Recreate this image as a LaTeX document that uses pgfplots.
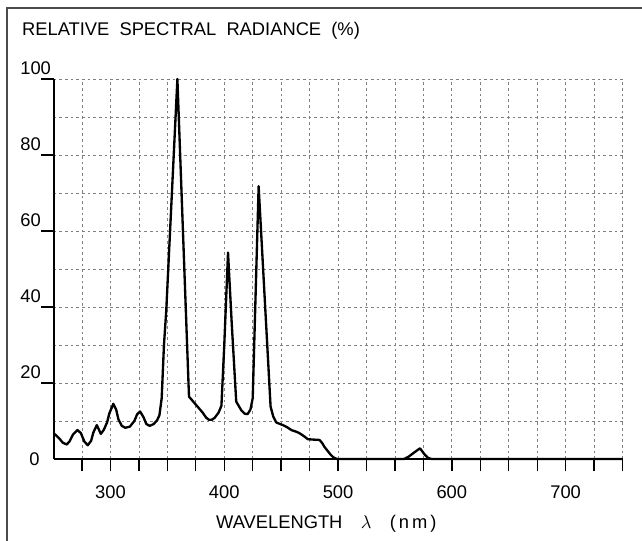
\documentclass[border=0pt]{standalone}
\usepackage{fontspec}
\setmainfont{Liberation Sans}
\usepackage{pgfplots}
\pgfplotsset{compat=1.18}

% 1 px of the reference = 0.6pt
\begin{document}
\begin{tikzpicture}
\begin{axis}[
  name=ax,
  scale only axis,
  width=341.4pt, height=228pt,
  xmin=250, xmax=750, ymin=0, ymax=100,
  axis lines*=left,
  axis line style={black, line width=1.2pt},
  font=\fontsize{11}{13}\selectfont,
  /pgf/number format/assume math mode=true,
  xtick={275,300,...,750},
  xticklabels={{},300,{},{},{},400,{},{},{},500,{},{},{},600,{},{},{},700,{},{}},
  ytick={20,40,...,100},
  minor ytick={10,30,...,90},
  extra y ticks={0},
  extra y tick style={grid=none, major tick length=0pt, yticklabel style={yshift=-6.6pt, xshift=-2pt}},
  tick align=outside,
  major tick length=7.5pt,
  minor tick length=0pt,
  tick style={black, line width=0.8pt},
  xticklabel style={yshift=-5pt},
  yticklabel style={anchor=west, xshift=-16pt, yshift=6.6pt},
  grid=both,
  major grid style={black!50, line width=0.5pt, dash pattern=on 1.6pt off 1.8pt},
  minor grid style={black!50, line width=0.5pt, dash pattern=on 1.6pt off 1.8pt},
  title={RELATIVE\ \ SPECTRAL\ \ RADIANCE\ \ (\%)},
  title style={at={(0,1)}, anchor=base west, xshift=-19.1pt, yshift=19.8pt, inner sep=0pt},
  xlabel={WAVELENGTH\quad $\lambda$\quad (\,n\,m\,)},
  xlabel style={xshift=-7pt, yshift=-3pt},
  clip=false,
]
\addplot[black, line width=1.4pt, line join=round, mark=none] coordinates {
(250,6.8) (255,5.4) (258,4.3) (261.5,3.8) (264,4.6) (267,6.4) (271,7.6) (274,6.8)
(277,4.6) (280,3.6) (283,4.8) (285,7.0) (288,8.9) (290,7.6) (291.5,6.6) (294,7.6)
(297,9.6) (299,12.0) (302.5,14.5) (305,13.0) (307,10.4) (310,8.7) (313,8.2) (317,8.5)
(321,10.0) (323.5,11.8) (326,12.5) (329,11.0) (331.5,9.2) (334.5,8.7) (338,9.2)
(341,10.2) (343,11.5) (345,16) (347,30) (349,39) (358.8,100) (369,16.4) (375,14.3)
(381,12.2) (384,10.9) (386.5,10.3) (389,10.3) (391.5,10.8) (395,12.2) (397.5,14.0)
(400,30) (403.3,54.3) (406.5,36) (410.5,15.1) (415,12.8) (418,11.9) (420.5,11.8)
(423,13) (425,16) (430.2,71.8) (440.7,13.8) (443,11.2) (445.7,9.6) (451.5,8.9)
(455,8.4) (459,7.6) (463,7.2) (466,6.8) (470,6.0) (473.4,5.2) (478,5.1) (483.7,5.0)
(486,4.2) (488,3.2) (493,1.3) (496,0.4) (499,0) (558,0) (562,0.6) (566,1.5)
(572,2.8) (576,1.2) (579,0.3) (582,0) (750,0)
};
\end{axis}
\pgfresetboundingbox
\path[use as bounding box] ([xshift=-32.16pt, yshift=-49.2pt]ax.south west)
  rectangle ([xshift=11.7pt, yshift=47.4pt]ax.north east);
\draw[black!70, line width=1.2pt]
  ([xshift=-27.96pt, yshift=-60pt]ax.south west) -- ([xshift=-27.96pt, yshift=42.6pt]ax.north west)
  -- ([xshift=20pt, yshift=42.6pt]ax.north east);
\end{tikzpicture}
\end{document}
